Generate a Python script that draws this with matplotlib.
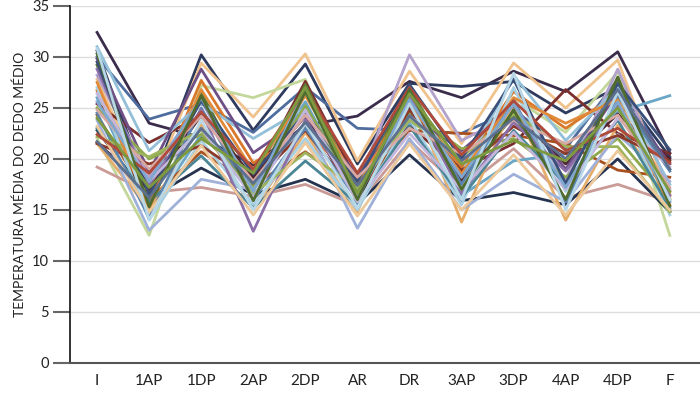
import matplotlib
matplotlib.use("Agg")
import matplotlib.pyplot as plt
import numpy as np

plt.rcParams['font.family'] = ['Lato', 'DejaVu Sans']

categories = ["I", "1AP", "1DP", "2AP", "2DP", "AR", "DR", "3AP", "3DP", "4AP", "4DP", "F"]

# one row per subject: temperatures at each measurement step
s01 = [32.4, 23.5, 22.1, 19.4, 23.3, 24.2, 27.6, 26.0, 28.6, 26.6, 30.5, 20.6]
s02 = [30.6, 16.8, 30.2, 22.8, 29.3, 19.5, 27.4, 27.1, 27.6, 24.5, 27.0, 20.2]
s03 = [30.0, 23.9, 25.4, 22.6, 27.0, 23.0, 22.8, 22.5, 24.8, 21.0, 27.8, 19.0]
s04 = [27.8, 16.5, 29.4, 24.1, 30.3, 19.8, 28.6, 21.5, 29.4, 25.0, 29.7, 16.2]
s05 = [22.0, 12.5, 27.2, 26.0, 27.8, 15.5, 25.2, 17.2, 26.0, 22.6, 28.5, 12.5]
s06 = [19.2, 16.7, 17.2, 16.3, 17.5, 15.4, 21.8, 17.0, 21.0, 16.2, 17.5, 15.8]
s07 = [22.8, 16.1, 19.1, 16.5, 18.0, 15.6, 20.4, 15.9, 16.7, 15.5, 20.0, 14.8]
s08 = [26.0, 14.8, 22.4, 17.6, 25.6, 16.2, 23.5, 16.4, 19.8, 20.5, 24.6, 26.2]
s09 = [24.3, 16.0, 20.7, 17.4, 20.7, 17.0, 22.8, 22.5, 22.3, 21.5, 18.9, 18.2]
s10 = [25.4, 21.6, 24.2, 18.0, 27.6, 17.8, 23.2, 19.0, 21.5, 26.8, 22.5, 20.5]
s11 = [28.2, 18.2, 25.8, 16.0, 26.4, 17.5, 30.2, 21.8, 24.4, 18.0, 28.8, 17.0]
s12 = [29.2, 16.3, 26.5, 17.0, 27.3, 17.0, 27.0, 18.2, 24.2, 17.5, 28.0, 15.0]
s13 = [21.6, 17.0, 24.3, 18.2, 24.2, 16.0, 25.1, 17.8, 24.6, 19.5, 24.4, 20.0]
s14 = [26.7, 15.5, 27.7, 19.6, 22.6, 18.0, 25.6, 19.2, 26.6, 23.0, 26.4, 16.5]
s15 = [31.0, 20.8, 25.5, 22.0, 25.0, 16.5, 26.0, 18.5, 28.2, 21.8, 27.0, 17.5]
s16 = [29.8, 18.7, 28.8, 20.6, 24.1, 18.5, 24.5, 20.8, 25.2, 19.0, 26.5, 19.5]
s17 = [25.0, 20.0, 22.4, 17.2, 25.2, 16.8, 24.6, 21.0, 22.0, 18.2, 22.0, 16.0]
s18 = [21.5, 15.0, 23.4, 15.0, 22.6, 14.8, 26.7, 13.8, 25.5, 14.0, 23.3, 16.8]
s19 = [23.8, 13.0, 18.0, 17.0, 23.5, 13.2, 22.0, 15.0, 18.5, 15.8, 22.4, 17.8]
s20 = [27.0, 14.0, 21.8, 15.5, 22.0, 15.0, 24.0, 15.5, 27.0, 16.8, 25.8, 14.5]
s21 = [23.0, 15.8, 20.3, 15.2, 19.8, 15.6, 23.2, 16.2, 22.8, 17.5, 23.8, 15.2]
s22 = [21.5, 19.5, 21.3, 17.8, 22.8, 16.4, 24.8, 18.8, 23.2, 20.5, 22.3, 19.8]
s23 = [24.5, 14.2, 25.0, 16.0, 23.0, 16.0, 26.5, 17.5, 25.8, 15.8, 26.2, 18.8]
s24 = [28.8, 17.5, 24.8, 12.9, 23.8, 16.6, 26.2, 16.6, 23.6, 18.8, 25.2, 16.4]
s25 = [22.2, 20.2, 22.8, 16.6, 20.6, 17.2, 23.8, 20.2, 24.4, 21.2, 21.2, 14.8]
s26 = [27.5, 15.2, 26.8, 18.8, 26.2, 17.6, 25.5, 18.5, 26.0, 23.5, 25.8, 15.5]
s27 = [29.5, 16.5, 25.7, 18.5, 24.5, 17.8, 27.3, 20.0, 27.8, 17.6, 27.4, 20.9]
s28 = [26.4, 17.8, 23.0, 16.2, 24.8, 15.8, 22.5, 17.0, 22.6, 17.0, 24.0, 19.2]
s29 = [24.8, 19.0, 24.2, 17.8, 24.3, 18.2, 23.0, 20.5, 23.8, 21.5, 24.3, 17.2]
s30 = [25.6, 17.8, 26.0, 16.8, 26.6, 16.2, 25.8, 18.2, 25.4, 17.2, 25.6, 15.8]
s31 = [23.2, 14.8, 21.3, 14.5, 21.6, 14.4, 21.5, 15.0, 20.4, 14.5, 20.8, 15.0]
s32 = [22.4, 18.6, 24.6, 19.0, 26.8, 18.6, 27.0, 20.4, 25.7, 20.8, 23.0, 19.6]
s33 = [30.3, 15.3, 26.2, 15.9, 26.6, 16.0, 26.8, 17.0, 24.8, 16.0, 28.0, 15.4]
s34 = [30.8, 14.0, 23.8, 15.0, 23.5, 15.2, 25.4, 16.0, 28.4, 15.0, 26.6, 16.0]
s35 = [21.7, 16.2, 23.0, 17.6, 23.6, 17.4, 24.2, 19.8, 24.0, 20.0, 26.8, 19.0]
s36 = [24.0, 17.2, 22.0, 18.6, 27.0, 16.6, 26.4, 19.5, 21.8, 19.8, 25.0, 16.8]

series = [s01, s02, s03, s04, s05, s06, s07, s08, s09, s10, s11, s12,
          s13, s14, s15, s16, s17, s18, s19, s20, s21, s22, s23, s24,
          s25, s26, s27, s28, s29, s30, s31, s32, s33, s34, s35, s36]

colors = ["#3c2c4c", "#2e3b5e", "#4e6c9e", "#f0c28c", "#c4d79b", "#c99a96",
          "#26334f", "#6aa6c6", "#a8501f", "#7a2e2e", "#b2a2cc", "#5f7a34",
          "#4e2430", "#d9782b", "#93c0d8", "#6e4f86", "#8ea94e", "#e6ad6a",
          "#9fb0d9", "#a8d0e2", "#4a8696", "#8b3a2a", "#5b85b0", "#8a6fa8",
          "#9db35c", "#e08a3a", "#3a4f7a", "#c2b6dc", "#d7a9a2", "#7fa7cf",
          "#ecc89a", "#b04a3a", "#4f6b2e", "#b8d8e8", "#5c6f8e", "#7d9a40"]

fig = plt.figure(figsize=(7, 3.94), dpi=100)
ax = fig.add_axes([0.1, 0.079, 0.9, 0.906])

x = np.arange(len(categories))
for vals, c in zip(series, colors):
    ax.plot(x, vals, color=c, linewidth=2.0)

ax.set_xlim(-0.52, 11.58)
ax.set_ylim(0, 35)
ax.set_yticks(np.arange(0, 36, 5))
ax.set_xticks(x)
ax.set_xticklabels(categories, fontsize=11, color="#222222")
ax.tick_params(axis="x", length=0, pad=8)
ax.tick_params(axis="y", length=12, width=1.5, color="#666666", labelsize=10.5,
               labelcolor="#222222", pad=3)
ax.grid(axis="y", color="#dddddd", linewidth=1)
ax.set_axisbelow(True)
for side in ["top", "right"]:
    ax.spines[side].set_visible(False)
ax.spines["left"].set_color("#111111")
ax.spines["left"].set_linewidth(1.2)
ax.spines["bottom"].set_color("#555555")
ax.spines["bottom"].set_linewidth(1.5)
ax.set_ylabel("TEMPERATURA MÉDIA DO DEDO MÉDIO", fontsize=10, color="#222222", labelpad=4)

fig.savefig("out.png", dpi=100)
